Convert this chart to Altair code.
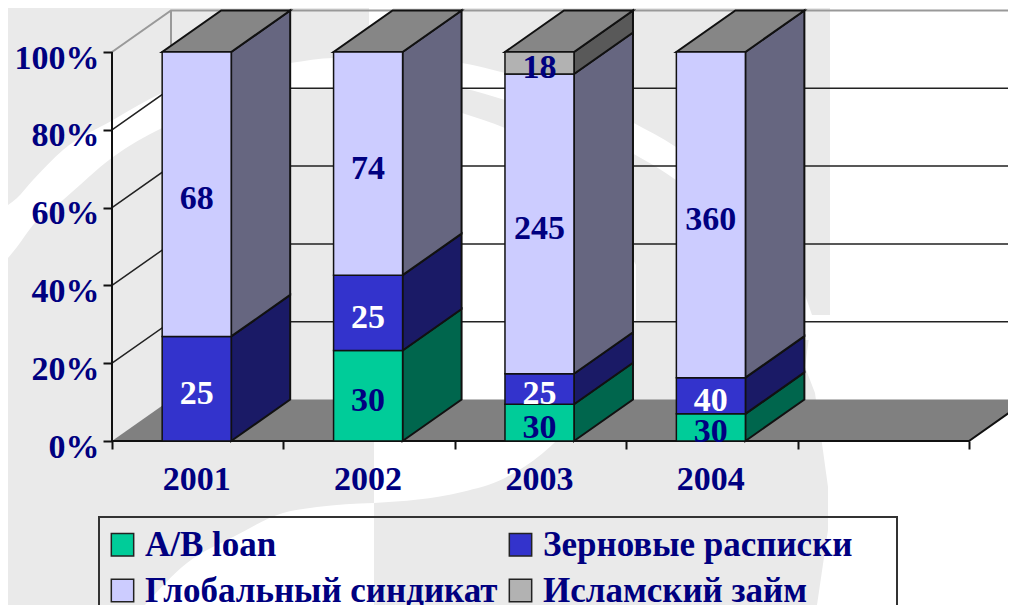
import altair as alt
import pandas as pd

# ---- values ----
years = [2001, 2002, 2003, 2004]
series_names = ["A/B loan", "Зерновые расписки", "Глобальный синдикат", "Исламский займ"]
ab_loan = [0, 30, 30, 30]
zernovye = [25, 25, 25, 40]
globalny = [68, 74, 245, 360]
islamsky = [0, 0, 18, 0]
y_ticks = [0, 20, 40, 60, 80, 100]

legend_order = ["A/B loan", "Глобальный синдикат", "Зерновые расписки", "Исламский займ"]
legend_colors = ["#00CC99", "#CCCCFF", "#3333CC", "#B2B2B2"]
side_colors = ["#00664D", "#1A1A66", "#666680", "#595959"]
label_colors = ["#000080", "#FFFFFF", "#000080", "#000080"]
NAVY = "#000080"
FONT = "Liberation Serif"
LINE = "#111111"
BG = "#EAEAEA"

# ---- scale geometry ----
PX_X, PX_Y = 171.4, 3.89            # pixels per category, per percent
BAR = 0.4026                        # bar width in category units
DX, DY = 59 / PX_X, 41.5 / PX_Y     # depth of the 3-D box
SLOTS = 5
WIDTH = 896
ux = lambda px: (px - 112) / PX_X
uy = lambda py: (441 - py) / PX_Y
X = alt.Scale(domain=[0, WIDTH / PX_X], nice=False, zero=False)
Y = alt.Scale(domain=[0, 433 / PX_Y], nice=False, zero=False)

X_AXIS = alt.Axis(
    values=list(range(SLOTS + 1)), labels=False, domain=False, grid=False,
    tickColor=LINE, tickWidth=2, tickSize=8, zindex=1, title=None)
Y_AXIS = alt.Axis(
    values=y_ticks, labelExpr="datum.value + '%'", domain=False,
    grid=False, tickColor=LINE, tickWidth=2, tickSize=9, labelPadding=4,
    labelFont=FONT, labelFontSize=34, labelFontWeight="bold", labelColor=NAVY,
    labelOffset=6, labelOverlap=False, labelBound=False, labelFlush=False,
    zindex=1, title=None)


def xc(f="x"):
    return alt.X(f"{f}:Q", scale=X, title=None, axis=X_AXIS)


def yc(f="y", **kw):
    return alt.Y(f"{f}:Q", scale=Y, title=None, axis=Y_AXIS, **kw)


# ---- stacked segments ----
matrix = [ab_loan, zernovye, globalny, islamsky]
front, sides, tops, labels = [], [], [], []
for i, yr in enumerate(years):
    total = sum(s[i] for s in matrix)
    left = i + 0.494 - BAR / 2
    right = left + BAR
    acc = 0
    for j, name in enumerate(series_names):
        v = matrix[j][i]
        if v == 0:
            continue
        y0, y1 = acc / total * 100, (acc + v) / total * 100
        acc += v
        front.append(dict(series=name, x=left, x2=right, y=y0, y2=y1))
        key = f"{yr}-{j}"
        sides.append(dict(key=key, j=j, x=right, y=y0, y2=y1))
        sides.append(dict(key=key, j=j, x=right + DX, y=y0 + DY, y2=y1 + DY))
        labels.append(dict(x=(left + right) / 2, y=(y0 + y1) / 2, t=str(v), j=j))
    for px, a, b in [(left, 100, 100), (left + DX, 100, 100 + DY),
                     (right, 100, 100 + DY), (right + DX, 100 + DY, 100 + DY)]:
        tops.append(dict(key=str(yr), x=px, y=a, y2=b))
front, sides, tops, labels = map(pd.DataFrame, (front, sides, tops, labels))

# ---- faint logo behind the chart (page pixels) ----
grey_y = [8, 315, 315.1, 367, 393, 487, 530, 605]
grey_x = [830, 830, 812, 805, 815, 828, 828, 817]
band_x = [8, 17, 33, 63, 113, 162, 230, 290, 334, 403, 462, 505, 575, 632, 676, 746, 805, 812]
band_top = [205, 198, 180, 150, 120, 93, 72, 63, 58, 58, 63, 73, 92, 122, 147, 205, 295, 315]
band_bot = [258, 247, 225, 200, 157, 128, 103, 90, 87, 80, 88, 100, 125, 153, 180, 245, 340, 340]
inner_x = [374, 462, 505, 575, 636]
inner_top = [85, 113, 128, 170, 265]
inner_bot = [503, 492, 478, 420, 320]
lower_x = [145, 187, 233, 283, 317, 374]
lower_top = [605, 563, 537, 513, 507, 503]
stripe_x = [369, 393]

grey = pd.DataFrame(dict(y=[uy(v) for v in grey_y], x2=[ux(v) for v in grey_x], x=ux(8)))
layers = [
    alt.Chart(grey).mark_area(orient="horizontal", color=BG).encode(
        x=xc(), x2="x2:Q", y=yc(sort=None))
]


def white(xs, tops_, bots):
    d = pd.DataFrame(dict(x=[ux(v) for v in xs], y=[uy(v) for v in tops_], y2=[uy(v) for v in bots]))
    return alt.Chart(d).mark_area(color="#FFFFFF", interpolate="monotone").encode(
        x=xc(), y=yc(), y2="y2:Q")


layers += [
    white(stripe_x, [8, 8], [70, 70]),
    white(band_x, band_top, band_bot),
    white(inner_x, inner_top, inner_bot),
    white(lower_x, lower_top, [605] * len(lower_x)),
]

# ---- walls and floor ----
RIGHT = WIDTH / PX_X
for colr, sw, levels in (("#222222", 1.5, y_ticks[1:-1]), ("#999999", 2, y_ticks[-1:])):
    wall = []
    for p in levels:
        wall.append(dict(key=f"d{p}", x=0, y=p))
        wall.append(dict(key=f"d{p}", x=DX, y=p + DY))
        wall.append(dict(key=f"d{p}", x=RIGHT, y=p + DY))
    layers.append(
        alt.Chart(pd.DataFrame(wall)).mark_line(color=colr, strokeWidth=sw)
        .encode(x=xc(), y=yc(), detail="key:N")
    )
back = pd.DataFrame(dict(x=[DX, DX], y=[DY, 100 + DY]))
layers.append(alt.Chart(back).mark_line(color="#999999", strokeWidth=2).encode(x=xc(), y=yc()))

floor = pd.DataFrame(dict(x=[0, DX, SLOTS, SLOTS + DX], y=[0, 0, 0, DY], y2=[0, DY, DY, DY]))
layers.append(alt.Chart(floor).mark_area(color="#808080").encode(x=xc(), y=yc(), y2="y2:Q"))
edge = pd.DataFrame(dict(x=[0, SLOTS, SLOTS + DX], y=[0, 0, DY]))
layers.append(alt.Chart(edge).mark_line(color=LINE, strokeWidth=2).encode(x=xc(), y=yc()))
axis_line = pd.DataFrame(dict(x=[0, 0], y=[0, 100]))
layers.append(alt.Chart(axis_line).mark_line(color=LINE, strokeWidth=2).encode(x=xc(), y=yc()))

# ---- 3-D faces ----
for j in range(len(series_names)):
    layers.append(
        alt.Chart(sides[sides.j == j])
        .mark_area(color=side_colors[j], stroke=LINE, strokeWidth=2)
        .encode(x=xc(), y=yc(), y2="y2:Q", detail="key:N")
    )
layers.append(
    alt.Chart(tops).mark_area(color="#868686", stroke=LINE, strokeWidth=2)
    .encode(x=xc(), y=yc(), y2="y2:Q", detail="key:N")
)

# ---- legend frame ----
frame = pd.DataFrame([dict(x=ux(99), x2=ux(897), y=uy(517), y2=uy(640))])
layers.append(
    alt.Chart(frame).mark_rect(fillOpacity=0, stroke="#333333", strokeWidth=2)
    .encode(x=xc(), x2="x2:Q", y=yc(), y2="y2:Q")
)

# ---- front faces with the legend ----
layers.append(
    alt.Chart(front)
    .mark_rect(stroke=LINE, strokeWidth=1.5)
    .encode(
        x=xc(), x2="x2:Q", y=yc(), y2="y2:Q",
        color=alt.Color(
            "series:N",
            scale=alt.Scale(domain=legend_order, range=legend_colors),
            legend=alt.Legend(
                title=None, orient="none", legendX=-19, legendY=507, columns=2,
                padding=12, columnPadding=5, rowPadding=10,
                symbolType="square", symbolSize=500, symbolStrokeColor="#222222",
                symbolStrokeWidth=1.5, symbolOpacity=1,
                labelFont=FONT, labelFontSize=35, labelFontWeight="bold",
                labelColor=NAVY, labelLimit=500, labelOffset=5,
            ),
        ),
    )
)

# ---- value labels ----
for j in range(len(series_names)):
    layers.append(
        alt.Chart(labels[labels.j == j])
        .mark_text(font=FONT, fontSize=34, fontWeight="bold", color=label_colors[j], dy=5)
        .encode(x=xc(), y=yc(), text="t:N")
    )

# ---- category labels ----
cats = pd.DataFrame(dict(x=[i + 0.494 for i in range(len(years))], t=[str(y) for y in years]))
layers.append(
    alt.Chart(cats)
    .mark_text(font=FONT, fontSize=34, fontWeight="bold", color=NAVY)
    .encode(x=xc(), y=alt.value(472), text="t:N")
)

chart = (
    alt.layer(*layers)
    .properties(
        width=WIDTH, height=433,
        padding={"left": 104, "top": 0, "right": 0, "bottom": 164},
        autosize=alt.AutoSizeParams(type="none"),
        background="#FFFFFF",
    )
    .configure_view(strokeWidth=0)
)
chart.save("out.html", embed_options={"renderer": "svg", "actions": False})
